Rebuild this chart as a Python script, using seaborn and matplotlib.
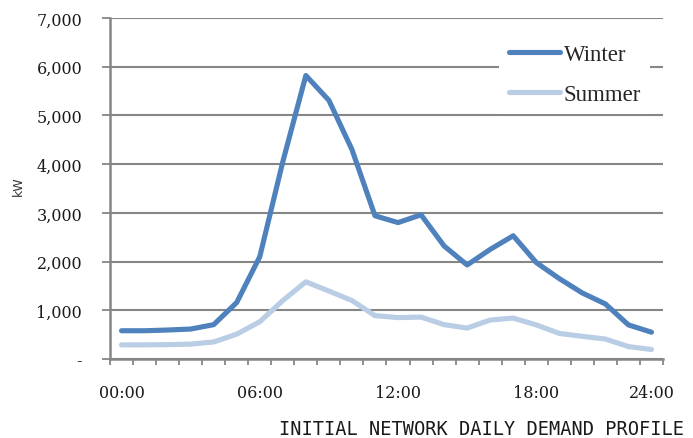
import matplotlib
matplotlib.use("Agg")
import matplotlib.pyplot as plt
import seaborn as sns
import pandas as pd

# Hourly demand (kW) over one day
hours = list(range(24))
winter = [580, 580, 595, 615, 705, 1160, 2100, 4050, 5820, 5310, 4300, 2940,
          2800, 2960, 2320, 1930, 2250, 2530, 1980, 1650, 1355, 1130, 700, 550]
summer = [290, 290, 295, 305, 350, 510, 765, 1200, 1585, 1395, 1200, 890,
          850, 860, 705, 635, 800, 840, 700, 525, 465, 410, 255, 195]
series_names = ["Winter", "Summer"]
series_colors = ["#4F81BD", "#B9CDE5"]
tick_pos = [0, 6, 12, 18, 23]
tick_labels = ["00:00", "06:00", "12:00", "18:00", "24:00"]
y_ticks = [0, 1000, 2000, 3000, 4000, 5000, 6000, 7000]
y_tick_labels = ["-", "1,000", "2,000", "3,000", "4,000", "5,000", "6,000", "7,000"]

df = pd.concat([
    pd.DataFrame({"hour": hours, "kW": winter, "season": series_names[0]}),
    pd.DataFrame({"hour": hours, "kW": summer, "season": series_names[1]}),
])

sns.set_theme(style="white")
grid_col = "#868686"

fig = plt.figure(figsize=(6.93, 4.39), dpi=100)
ax = fig.add_axes([110 / 693, 1 - 360 / 439, 553 / 693, 341 / 439])

sns.lineplot(data=df, x="hour", y="kW", hue="season", hue_order=series_names,
             palette=dict(zip(series_names, series_colors)), linewidth=3.7,
             ax=ax, legend=True)
for ln in ax.get_lines():
    ln.set_solid_joinstyle("round")
    ln.set_solid_capstyle("round")

ax.set_xlim(-0.5, 23.5)
ax.set_ylim(0, 7000)

ax.set_yticks(y_ticks)
ax.set_yticklabels(y_tick_labels)
ax.set_xticks(tick_pos)
ax.set_xticklabels(tick_labels)
ax.set_xticks([h - 0.5 for h in hours] + [23.5], minor=True)

ax.yaxis.grid(True, color=grid_col, linewidth=1.5)
ax.set_axisbelow(True)
for side in ["top", "right"]:
    ax.spines[side].set_visible(False)
for side in ["left", "bottom"]:
    ax.spines[side].set_color(grid_col)
    ax.spines[side].set_linewidth(1.8)

ax.tick_params(axis="y", which="major", direction="out", length=6, width=1.3,
               color=grid_col, pad=14, left=True)
ax.tick_params(axis="x", which="major", length=0, pad=18)
ax.tick_params(axis="x", which="minor", direction="out", length=4.5, width=1.3,
               color=grid_col, bottom=True)
for lab in ax.get_xticklabels() + ax.get_yticklabels():
    lab.set_fontfamily("DejaVu Serif")
    lab.set_fontsize(11.5)
    lab.set_color("#1a1a1a")

ax.set_xlabel("")
ax.set_ylabel("kW", fontsize=9, family="DejaVu Sans", color="#333333", labelpad=2)
ax.yaxis.set_label_coords(-85 / 553, 0.51)

handles, labels = ax.get_legend_handles_labels()
leg = ax.legend(handles, labels, loc="upper left",
                bbox_to_anchor=(488 / 693, 1 - 24 / 439),
                bbox_transform=fig.transFigure,
                prop={"family": "Liberation Serif", "size": 16.5},
                frameon=True, facecolor="white", edgecolor="none", framealpha=1,
                fancybox=False, handlelength=2.25, handletextpad=0.15,
                labelspacing=0.85, borderpad=0.4)
for h in leg.get_lines():
    h.set_linewidth(3.7)
    h.set_solid_capstyle("round")

fig.text(684 / 693, 1 - 430 / 439, "INITIAL NETWORK DAILY DEMAND PROFILE",
         ha="right", va="center", family="DejaVu Sans Mono", fontsize=13.4,
         color="#1a1a1a")

fig.savefig("out.png", dpi=100)
